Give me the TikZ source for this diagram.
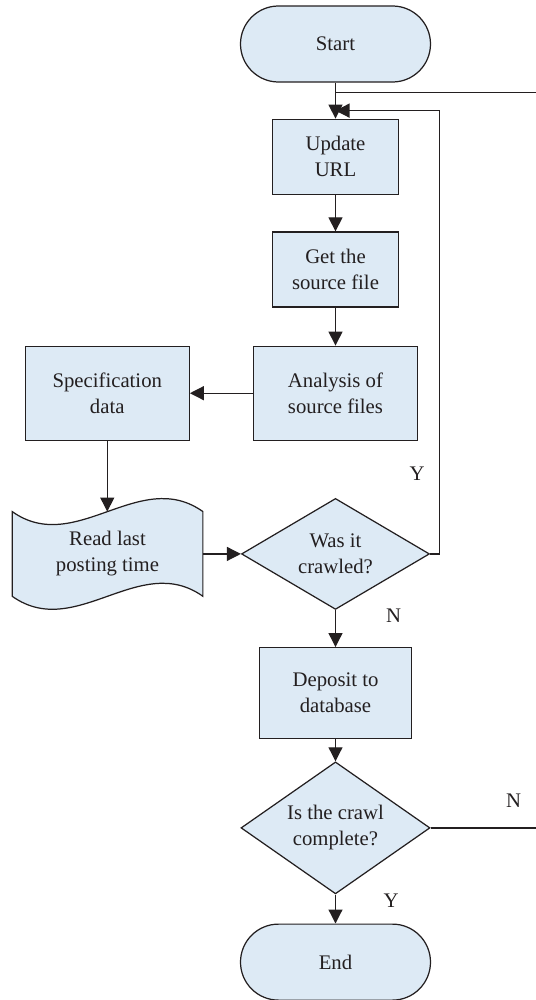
\documentclass[tikz,border=0pt]{standalone}
\usepackage{fontspec}
\setmainfont{Liberation Serif}
\usetikzlibrary{
   arrows.meta,
   calc,
   positioning,
   shapes.geometric,
   backgrounds
}
\definecolor{boxfill}{RGB}{221,234,245}
\definecolor{lineclr}{RGB}{35,31,32}

\begin{document}
\begin{tikzpicture}[
    node distance=7.6mm,
    every node/.style={font=\fontsize{11.8}{14.8}\selectfont, text=lineclr},
    box/.style={rectangle, draw=lineclr, line width=0.7pt, fill=boxfill, minimum width=25.2mm, minimum height=15mm, align=center, inner sep=1mm},
    terminal/.style={box, rounded corners=7.6mm, minimum width=38mm, minimum height=15.2mm},
    decision/.style={diamond, draw=lineclr, line width=0.7pt, fill=boxfill, align=center, inner sep=0pt},
    arrow/.style={-{Triangle[length=2.8mm, width=2.8mm]}, line width=0.7pt, draw=lineclr},
    line/.style={line width=0.7pt, draw=lineclr},
    lbl/.style={inner sep=0pt}
]

\node[terminal] (start) {Start};
\useasboundingbox ([shift={(-67.1mm,8.8mm)}]start.center) rectangle ++(107mm,-200mm);

\node[box, below=7.2mm of start] (update) {Update\\URL};
\node[box, below=7.3mm of update] (getsrc) {Get the\\source file};
\node[box, below=7.6mm of getsrc, minimum width=32.8mm, minimum height=18.8mm] (analysis) {Analysis of\\source files};
\node[box, left=12.6mm of analysis, minimum width=32.8mm, minimum height=18.8mm] (spec) {Specification\\data};
\node[decision, below=11.4mm of analysis, aspect=1.69, minimum width=37.6mm, minimum height=22.2mm] (crawled) {Was it\\crawled?};
\node[left=of crawled, minimum width=38mm, minimum height=16.8mm, align=center] (readlast) {Read last\\posting time};
\node[box, below=7.4mm of crawled, minimum width=30.4mm, minimum height=18.2mm] (deposit) {Deposit to\\database};
\node[decision, below=4.4mm of deposit, aspect=1.43, minimum width=37.8mm, minimum height=26.4mm] (complete) {Is the crawl\\complete?};
\node[terminal, below=5.8mm of complete] (finish) {End};

% wavy document shape
\begin{scope}[on background layer]
\draw[line, fill=boxfill] (readlast.north west) .. controls +(12.67mm,-9mm) and +(-12.67mm,9mm) .. (readlast.north east)
    -- (readlast.south east) .. controls +(-12.67mm,9mm) and +(12.67mm,-9mm) .. (readlast.south west) -- cycle;
\end{scope}

\coordinate (joinN) at ([yshift=-2mm]start.south);
\coordinate (joinY) at ([yshift=-5.6mm]start.south);

\draw[arrow] (start) -- (update);
\draw[arrow] (update) -- (getsrc);
\draw[arrow] (getsrc) -- (analysis);
\draw[arrow] (analysis) -- (spec);
\draw[arrow] (spec) -- (spec |- readlast.north);
\draw[arrow] (readlast) -- (crawled);
\draw[arrow] (crawled) -- (deposit);
\draw[arrow] (deposit) -- (complete);
\draw[arrow] (complete) -- (finish);
\draw[arrow] (crawled.east) -- ++(1.8mm,0) |- (joinY);
\draw[line] (complete.east) -- ++(30mm,0) |- (joinN);

\node[lbl] (ylab1) at ([shift={(-2.6mm,16mm)}]crawled.east) {Y};
\node[lbl] (nlab1) at ([shift={(11.6mm,-1.2mm)}]crawled.south) {N};
\node[lbl] (nlab2) at ([shift={(16.6mm,5.4mm)}]complete.east) {N};
\node[lbl] (ylab2) at ([shift={(11.1mm,-1.2mm)}]complete.south) {Y};

\end{tikzpicture}
\end{document}
